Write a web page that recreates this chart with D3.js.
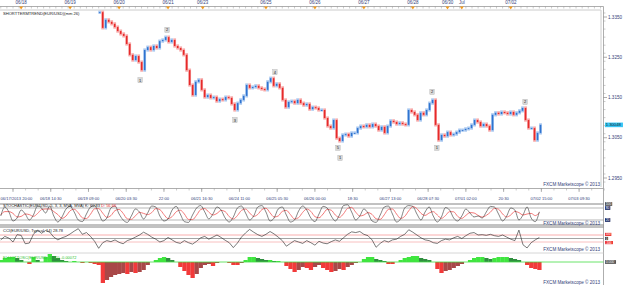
<!DOCTYPE html>
<html>
<head>
<meta charset="utf-8">
<script src="https://cdn.jsdelivr.net/npm/d3@7"></script>
<style>
  body { margin: 0; background: #fff; }
  svg { display: block; font-family: "Liberation Sans", Arial, sans-serif; }
</style>
</head>
<body>
<div id="chart"></div>
<script>

// ---- data ----
// time is in trading hours since 06/17 20:00 (weekend removed)
var topDateHours = [4, 28, 52, 76, 93, 124, 148, 172, 196, 213, 220, 244];
var topDateLabels = ["06/18", "06/19", "06/20", "06/21", "06/23", "06/25", "06/26", "06/27", "06/28", "06/30", "Jul", "07/02"];

var timeHours = [0, 18.5, 37, 55.5, 74, 92.5, 111, 129.5, 148, 166.5, 185, 203.5, 222, 240.5, 259, 277.5];
var timeLabels = ["06/17/2013 20:00", "06/18 14:30", "06/19 09:00", "06/20 03:30", "22:00", "06/21 16:30",
  "06/24 11:00", "06/25 05:30", "06/26 00:00", "18:30", "06/27 13:00", "06/28 07:30",
  "07/01 02:00", "20:30", "07/02 15:00", "07/03 09:30"];

var priceTicks = [1.3350, 1.3250, 1.3150, 1.3050, 1.2950];
var lastPriceLabel = "1.30048";

// closes, one every 1.47 h from hour 42.5
var priceStart = 42.5, priceStep = 1.47;
var closes = [
  1.3362, 1.3323, 1.3343, 1.3338, 1.3333, 1.3325, 1.3315, 1.3308, 1.3303, 1.3283,
  1.3256, 1.3243, 1.3253, 1.3238, 1.3218, 1.3268, 1.3275, 1.3268, 1.3278, 1.3273,
  1.3290, 1.3293, 1.3300, 1.3288, 1.3293, 1.3278, 1.3273, 1.3268, 1.3256, 1.3218,
  1.3181, 1.3156, 1.3189, 1.3194, 1.3169, 1.3151, 1.3156, 1.3149, 1.3151, 1.3141,
  1.3146, 1.3144, 1.3151, 1.3149, 1.3134, 1.3119, 1.3136, 1.3144, 1.3154, 1.3181,
  1.3174, 1.3176, 1.3179, 1.3174, 1.3171, 1.3169, 1.3189, 1.3198, 1.3179, 1.3184,
  1.3174, 1.3144, 1.3126, 1.3139, 1.3141, 1.3136, 1.3144, 1.3136, 1.3131, 1.3134,
  1.3121, 1.3126, 1.3124, 1.3119, 1.3119, 1.3099, 1.3079, 1.3074, 1.3094, 1.3049,
  1.3042, 1.3057, 1.3059, 1.3054, 1.3062, 1.3062, 1.3074, 1.3079, 1.3077, 1.3082,
  1.3077, 1.3084, 1.3079, 1.3069, 1.3077, 1.3062, 1.3079, 1.3092, 1.3089, 1.3084,
  1.3087, 1.3084, 1.3082, 1.3119, 1.3114, 1.3107, 1.3094, 1.3112, 1.3107, 1.3119,
  1.3136, 1.3144, 1.3082, 1.3044, 1.3057, 1.3054, 1.3064, 1.3057, 1.3059, 1.3064,
  1.3069, 1.3069, 1.3072, 1.3074, 1.3082, 1.3094, 1.3089, 1.3079, 1.3084, 1.3079,
  1.3069, 1.3107, 1.3112, 1.3109, 1.3114, 1.3112, 1.3109, 1.3114, 1.3107, 1.3112,
  1.3117, 1.3124, 1.3094, 1.3074, 1.3074, 1.3044, 1.3062, 1.3082
];

// wave count labels
var waveText = ["1", "2", "3", "4", "5", "1", "2", "1", "2"];
var waveHours = [62.3, 75.5, 108.8, 128.4, 159.3, 160.3, 205.4, 207.8, 251];
var wavePrices = [1.3193, 1.3318, 1.3094, 1.3213, 1.3025, 1.3000, 1.3164, 1.3025, 1.3139];

// indicators, one value every 2 h from hour -6
var indStart = -6, indStep = 2;
var stochK = [
  40, 85, 60, 15, 30, 70, 50, 20, 45, 90,
  80, 55, 90, 40, 10, 35, 75, 88, 60, 20,
  12, 50, 85, 92, 55, 15, 30, 80, 90, 50,
  20, 8, 40, 75, 60, 25, 55, 90, 85, 40,
  15, 25, 70, 88, 50, 12, 8, 45, 80, 92,
  60, 25, 50, 85, 70, 30, 10, 35, 80, 90,
  55, 20, 40, 85, 92, 60, 15, 30, 75, 85,
  45, 10, 20, 65, 90, 70, 30, 12, 50, 88,
  80, 40, 15, 45, 92, 96, 60, 20, 40, 75,
  55, 15, 8, 45, 85, 90, 50, 10, 25, 80,
  92, 88, 50, 20, 60, 85, 40, 10, 35, 82,
  70, 30, 15, 40, 75, 55, 35, 40, 30, 60,
  88, 85, 50, 15, 40, 80, 70, 20, 45, 85,
  30, 12, 61
];
var stochD = [
  45, 62, 62, 53, 35, 38, 50, 47, 38, 52,
  72, 75, 75, 62, 47, 28, 40, 66, 74, 56,
  31, 27, 49, 76, 77, 54, 33, 42, 67, 73,
  53, 26, 23, 41, 58, 53, 47, 57, 77, 72,
  47, 27, 37, 61, 69, 50, 23, 22, 44, 72,
  77, 59, 45, 53, 68, 62, 37, 25, 42, 68,
  75, 55, 38, 48, 72, 79, 56, 35, 40, 63,
  68, 47, 25, 32, 58, 75, 63, 37, 31, 50,
  73, 69, 45, 33, 51, 78, 83, 59, 40, 45,
  57, 48, 26, 23, 46, 73, 75, 50, 28, 38,
  66, 87, 77, 53, 43, 55, 62, 45, 28, 42,
  62, 61, 38, 28, 43, 57, 55, 43, 35, 43,
  59, 78, 74, 50, 35, 45, 63, 57, 45, 50,
  53, 42, 57
];
var cci = [
  -40, 60, 10, -100, 110, 90, -150, -130, 120, 240,
  150, 230, 180, 40, -40, 20, 60, 130, 210, 280,
  120, 170, 60, -80, -280, -120, -60, -90, -40, -110,
  -150, -60, -20, 40, 100, 180, 120, 40, -20, -100,
  -60, 30, -40, -110, -140, -60, -120, -160, -80, 20,
  60, -20, 40, 100, 30, -50, -120, -260, -130, 40,
  160, 260, 180, 110, 60, 120, 200, 130, 40, -60,
  -220, -140, -60, -100, -140, -60, -120, -190, -80, -130,
  -150, -90, -40, -80, 20, 120, 190, 170, 200, 120,
  80, -40, -250, -140, -60, -100, -40, -20, 60, 120,
  250, 180, 100, 20, -40, -60, -120, -140, -60, -20,
  -40, 20, 60, 0, 80, 150, 170, 100, 110, 90,
  120, 80, 60, 100, 40, -20, -60, 240, -180, -270,
  -120, -40, 29
];
var osc = [
  0.0002, 0.0004, 0.0005, 0.0005, 0.0004, 0.0002, 0, -0.0002, 0.0005, 0.0002,
  0, 0.0005, 0.0008, 0.0006, 0.0004, 0.0002, 0.0001, 0, 0.0001, 0,
  -0.0001, 0, -0.0001, -0.0002, -0.0003, -0.0021, -0.0018, -0.0015, -0.0013, -0.0012,
  -0.0011, -0.0012, -0.0010, -0.0011, -0.0010, -0.0008, -0.0003, 0, 0.0002, 0.0004,
  0.0005, 0.0004, 0.0002, 0, -0.0005, -0.0009, -0.0013, -0.0016, -0.0012, -0.0006,
  -0.0003, -0.0002, -0.0004, -0.0001, 0, 0, -0.0001, -0.0003, -0.0003, -0.0001,
  0.0002, 0.0005, 0.0005, 0.0004, 0.0003, 0.0002, 0.0002, 0.0001, 0.0001, 0,
  -0.0004, -0.0007, -0.0010, -0.0008, -0.0005, -0.0006, -0.0008, -0.0005, -0.0003, -0.0006,
  -0.0008, -0.0010, -0.0009, -0.0007, -0.0008, -0.0005, -0.0003, -0.0001, 0, 0.0003,
  0.0005, 0.0005, 0.0003, 0.0002, 0.0001, -0.0002, -0.0002, 0, 0.0002, 0.0004,
  0.0005, 0.0006, 0.0006, 0.0004, 0.0003, 0.0002, 0, -0.0007, -0.0011, -0.0009,
  -0.0008, -0.0006, -0.0004, -0.0002, 0, 0.0002, 0.0004, 0.0005, 0.0005, 0.0004,
  0.0003, 0.0004, 0.0005, 0.0005, 0.0005, 0.0004, 0.0003, 0.0002, 0, -0.0003,
  -0.0006, -0.0007, -0.0008
];

// ---- layout ----
var width = 625, height = 285;
var plotRight = 601, axisX = 603.5;
var labelColor = "#34427a", fs = 4.6;

var svg = d3.select("#chart")
  .append("svg")
    .attr("width", width)
    .attr("height", height);

var x = d3.scaleLinear().domain([0, 290]).range([13, 604.6]);
var yPrice = d3.scaleLinear().domain([1.2950, 1.3350]).range([178, 17]);
var yStoch = d3.scaleLinear().domain([0, 100]).range([224, 204]);
var yCci = d3.scaleLinear().domain([-100, 100]).range([242, 235]);
var yOsc = d3.scaleLinear().domain([0, 0.001]).range([262, 252]);

var priceHour = function(i) { return priceStart + i * priceStep; };
var indHour = function(i) { return indStart + i * indStep; };

function hline(y, x1, x2, color, w) {
  svg.append("line")
    .attr("x1", x1).attr("x2", x2).attr("y1", y).attr("y2", y)
    .attr("stroke", color).attr("stroke-width", w || 1);
}
function txt(xp, yp, s, color, anchor, size) {
  return svg.append("text")
    .attr("x", xp).attr("y", yp)
    .attr("font-size", size || fs)
    .attr("fill", color || labelColor)
    .attr("text-anchor", anchor || "start")
    .text(s);
}
// small value box on the right axis
function tag(y, s, bg, fg, size) {
  size = size || 3.4;
  var w = s.length * size * 0.56 + 1.5;
  svg.append("rect").attr("x", axisX + 1.5).attr("y", y - size * 0.55)
    .attr("width", w).attr("height", size * 1.1).attr("fill", bg);
  txt(axisX + 2.2, y + size * 0.36, s, fg, "start", size);
}

// ---- top date strip ----
hline(6.5, 0, axisX, "#999", 0.8);
d3.range(-6, 290, 3).forEach(function(h) {
  svg.append("line").attr("x1", x(h)).attr("x2", x(h)).attr("y1", 6.5).attr("y2", 8.5)
    .attr("stroke", "#999").attr("stroke-width", 0.5);
});
svg.append("g").selectAll("path")
  .data(topDateHours)
  .enter()
  .append("path")
    .attr("d", function(d) { var c = x(d); return "M" + (c - 2) + ",6.5L" + (c + 2) + ",6.5L" + c + ",9.5Z"; })
    .attr("fill", "#f39a1e");
svg.append("g").selectAll("text")
  .data(topDateHours)
  .enter()
  .append("text")
    .attr("x", function(d) { return x(d); })
    .attr("y", 4.4)
    .attr("font-size", 4.5)
    .attr("fill", labelColor)
    .attr("text-anchor", "middle")
    .text(function(d, i) { return topDateLabels[i]; });

// ---- main price panel ----
hline(10, 0, plotRight, "#ccc", 1);
svg.append("line").attr("x1", plotRight).attr("x2", plotRight).attr("y1", 10).attr("y2", 187)
  .attr("stroke", "#ccc");
svg.append("line").attr("x1", axisX).attr("x2", axisX).attr("y1", 6.5).attr("y2", 285)
  .attr("stroke", "#999").attr("stroke-width", 0.8);

d3.range(1.2940, 1.3400, 0.002).forEach(function(p) {
  var y = yPrice(p);
  if (y < 8 || y > 186) return;
  svg.append("line").attr("x1", axisX).attr("x2", axisX + 2).attr("y1", y).attr("y2", y)
    .attr("stroke", "#999").attr("stroke-width", 0.5);
});
priceTicks.forEach(function(p) {
  svg.append("line").attr("x1", axisX).attr("x2", axisX + 3.5)
    .attr("y1", yPrice(p)).attr("y2", yPrice(p)).attr("stroke", "#777").attr("stroke-width", 0.6);
  txt(axisX + 4.5, yPrice(p) + 1.6, p.toFixed(4));
});

txt(3, 14.5, "SHORTTERMTREND(EUR/USD)(mm 26)", "#222", "start", 4.1);

// candles: open is the previous close, pale wick behind a solid body
var candles = svg.append("g");
closes.forEach(function(c, i) {
  var o = i === 0 ? c : closes[i - 1];
  var up = c >= o;
  var cx = x(priceHour(i));
  var top = yPrice(Math.max(o, c)), bot = yPrice(Math.min(o, c));
  candles.append("rect")
    .attr("x", cx - 1.4).attr("y", top - 1.6).attr("width", 2.8).attr("height", bot - top + 3.2)
    .attr("fill", up ? "#a9c8f0" : "#f7aaaa");
  candles.append("rect")
    .attr("x", cx - 0.8).attr("y", top).attr("width", 1.6).attr("height", Math.max(1, bot - top))
    .attr("fill", up ? "#2f74d0" : "#e62a2a");
});

// wave labels
waveText.forEach(function(t, i) {
  var cx = x(waveHours[i]), cy = yPrice(wavePrices[i]);
  svg.append("rect").attr("x", cx - 2.2).attr("y", cy - 2.6).attr("width", 4.4).attr("height", 5.2)
    .attr("fill", "#d8d8d8").attr("stroke", "#b0b0b0").attr("stroke-width", 0.4);
  txt(cx, cy + 1.5, t, "#222", "middle", 4);
});

// last price tag
tag(yPrice(closes[closes.length - 1]), lastPriceLabel, "#38c6f4", "#123", 4.2);

txt(600, 186, "FXCM Marketscope \u00a9 2013", labelColor, "end");

// ---- time axis ----
hline(188.5, 0, axisX, "#999", 0.8);
d3.range(0, 290, 18.5 / 3).forEach(function(h) {
  svg.append("line").attr("x1", x(h)).attr("x2", x(h)).attr("y1", 188.5).attr("y2", 190.5)
    .attr("stroke", "#999").attr("stroke-width", 0.5);
});
timeHours.forEach(function(h, i) {
  svg.append("line").attr("x1", x(h)).attr("x2", x(h)).attr("y1", 188.5).attr("y2", 192)
    .attr("stroke", "#888").attr("stroke-width", 0.6);
  if (i === 0) txt(0.5, 199.5, timeLabels[i], labelColor, "start", 4.1);
  else txt(x(h), 199.5, timeLabels[i], labelColor, "middle", 4.1);
});

// ---- stochastic ----
hline(204, 0, axisX, "#666", 0.8);
hline(yStoch(80), 0, axisX, "#999", 0.7);
hline(yStoch(20), 0, axisX, "#999", 0.7);
hline(225, 0, axisX, "#666", 0.8);

var stochLine = function(arr) {
  return d3.line()
    .x(function(d, i) { return x(indHour(i)); })
    .y(function(d) { return yStoch(d); })
    .curve(d3.curveMonotoneX)(arr);
};
svg.append("path").attr("d", stochLine(stochD)).attr("fill", "none")
  .attr("stroke", "#f06a6a").attr("stroke-width", 0.9);
svg.append("path").attr("d", stochLine(stochK)).attr("fill", "none")
  .attr("stroke", "#333").attr("stroke-width", 0.6);

var st = txt(3, 207.4, "STOCHASTIC(EUR/USD, 5, 3, 3, MVA, MVA)  K: 60.83 ", "#222", "start", 4);
st.append("tspan").attr("fill", "#e33").text(" D: 56.66");
tag(yStoch(100), "100", "#555", "#fff");
tag(yStoch(80), "80", "#1f2d66", "#fff");
tag(yStoch(20), "20", "#1f2d66", "#fff");
txt(600, 224.5, "FXCM Marketscope \u00a9 2013", labelColor, "end");

// ---- CCI ----
hline(227, 0, axisX, "#666", 0.8);
hline(yCci(100), 0, axisX, "#f79a9a", 0.8);
hline(yCci(0), 0, axisX, "#666", 0.6);
hline(yCci(-100), 0, axisX, "#f7b0b0", 0.8);

svg.append("path")
  .attr("d", d3.line()
    .x(function(d, i) { return x(indHour(i)); })
    .y(function(d) { return yCci(d); })(cci))
  .attr("fill", "none").attr("stroke", "#222").attr("stroke-width", 0.6);

txt(3, 231.8, "CCI(EUR/USD, Typical, 14) 28.78", "#222", "start", 4);
tag(yCci(100) - 0.6, "100", "#ee3b3b", "#fff", 2.9);
tag(yCci(0), "0", "#444", "#fff", 2.9);
tag(yCci(-100) + 0.6, "-100", "#ee3b3b", "#fff", 2.9);
txt(600, 250.5, "FXCM Marketscope \u00a9 2013", labelColor, "end");

// ---- oscillator histogram ----
hline(253, 0, axisX, "#ccc", 0.8);
var barW = x(indStep) - x(0);
svg.append("g").selectAll("rect")
  .data(osc)
  .enter()
  .append("rect")
    .attr("x", function(d, i) { return x(indHour(i)) - barW / 2; })
    .attr("y", function(d) { return Math.min(yOsc(d), yOsc(0)); })
    .attr("width", barW + 0.2)
    .attr("height", function(d) { return Math.abs(yOsc(d) - yOsc(0)); })
    .attr("fill", function(d, i) {
      var prev = i === 0 ? 0 : osc[i - 1];
      var growing = Math.abs(d) >= Math.abs(prev);
      if (d >= 0) return growing ? "#3fe63f" : "#2f8f3f";
      return growing ? "#f23a3a" : "#a84848";
    });
hline(yOsc(0), 0, axisX, "#44dd44", 0.8);
txt(3, 258.8, "ELLIOTTOSC(EUR/USD, 5, 35) -0.00072", "#2fbf2f", "start", 4);
tag(yOsc(0), "0.000", "#555", "#fff");
txt(600, 283.5, "FXCM Marketscope \u00a9 2013", labelColor, "end");

</script>
</body>
</html>
